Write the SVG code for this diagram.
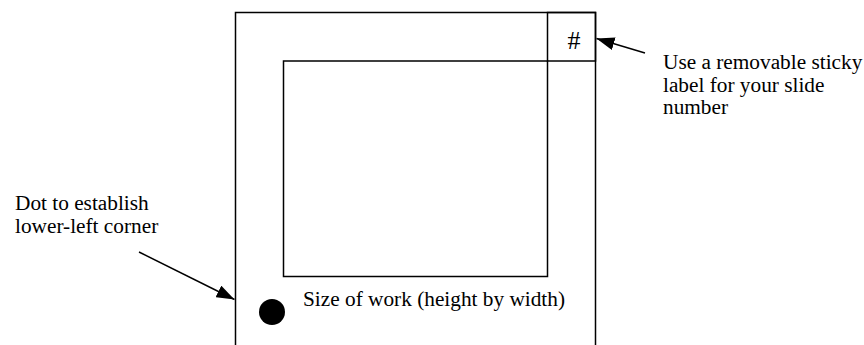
<svg xmlns="http://www.w3.org/2000/svg" width="864" height="345" viewBox="0 0 864 345">
<style>
.box{fill:none;stroke:#000;stroke-width:1.5}
.t{font-family:"Liberation Serif","Times New Roman",serif;font-size:21.3px;fill:#000}
.c{stroke:#000;stroke-width:1.5;fill:none}
</style>
<defs>
<marker id="ah" viewBox="0 0 18 13" refX="18" refY="6.5" markerWidth="18" markerHeight="13" markerUnits="userSpaceOnUse" orient="auto">
<path d="M0,0 L18,6.5 L0,13 z" fill="#000"/>
</marker>
</defs>
<rect width="864" height="345" fill="#fff"/>
<g id="slide">
<path class="box" d="M235.5,350 V12.5 H595.5 V350"/>
</g>
<g id="number-box">
<rect class="box" x="547.5" y="12.5" width="48" height="48.5"/>
<text class="t" x="567.5" y="49" font-family="Liberation Serif, serif" style="font-size:26px">#</text>
</g>
<g id="work">
<rect class="box" x="283.5" y="61" width="264" height="215.5"/>
</g>
<g id="dot">
<circle cx="272" cy="312" r="13" fill="#000"/>
</g>
<g id="size-label">
<text class="t" x="303" y="306" font-family="Liberation Serif, serif">Size of work (height by width)</text>
</g>
<g id="sticky-label">
<text class="t" x="663" y="69" font-family="Liberation Serif, serif">Use a removable sticky</text>
<text class="t" x="663" y="91.5" font-family="Liberation Serif, serif">label for your slide</text>
<text class="t" x="663" y="114" font-family="Liberation Serif, serif">number</text>
</g>
<g id="dot-label">
<text class="t" x="15" y="210" font-family="Liberation Serif, serif">Dot to establish</text>
<text class="t" x="15" y="233" font-family="Liberation Serif, serif">lower-left corner</text>
</g>
<g id="connectors">
<line class="c" x1="645" y1="53" x2="596.5" y2="38.5" marker-end="url(#ah)"/>
<line class="c" x1="139" y1="252" x2="234.5" y2="299.5" marker-end="url(#ah)"/>
</g>
</svg>
